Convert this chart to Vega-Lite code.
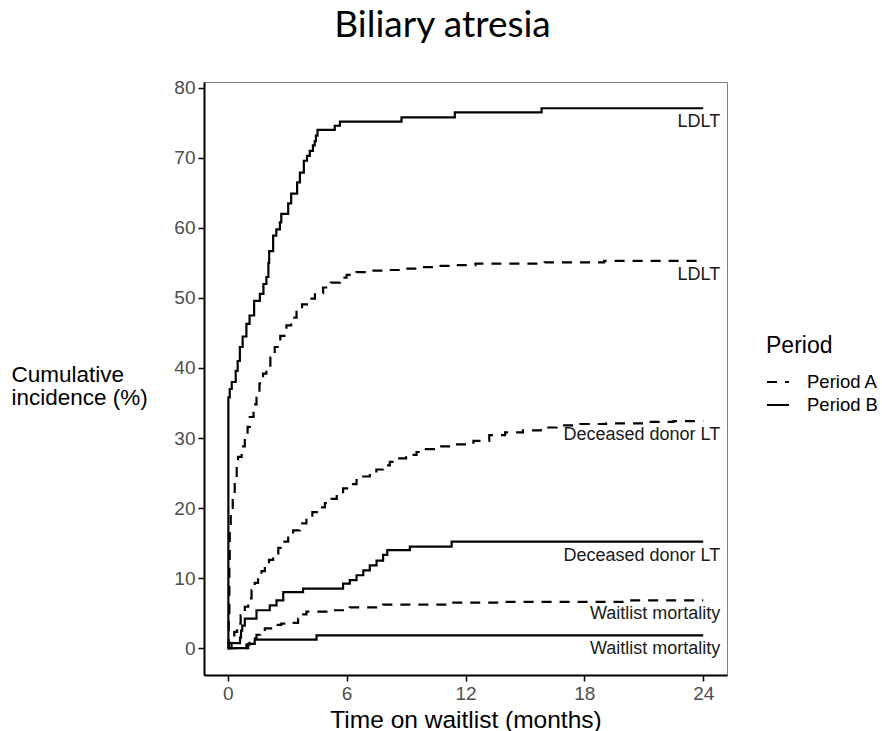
{
  "$schema": "https://vega.github.io/schema/vega-lite/v6.json",
  "width": 523,
  "height": 593,
  "autosize": {"type": "none"},
  "padding": {"left": 204, "top": 82, "right": 155, "bottom": 56},
  "background": "white",
  "title": {"text": "Biliary atresia", "font": "Lato", "fontSize": 37, "fontWeight": "normal", "color": "black", "anchor": "middle", "dx": -23, "offset": 5, "baseline": "alphabetic"},
  "config": {
    "view": {"stroke": "#7f7f7f", "strokeWidth": 1},
    "axis": {"grid": false}
  },
  "datasets": {
    "curves": [
      {"period": "Period B", "event": "LDLT", "time": 0, "cum": 0},
      {"period": "Period B", "event": "LDLT", "time": 0.03, "cum": 35.8},
      {"period": "Period B", "event": "LDLT", "time": 0.1, "cum": 37},
      {"period": "Period B", "event": "LDLT", "time": 0.2, "cum": 38},
      {"period": "Period B", "event": "LDLT", "time": 0.4, "cum": 39.6},
      {"period": "Period B", "event": "LDLT", "time": 0.5, "cum": 41},
      {"period": "Period B", "event": "LDLT", "time": 0.61, "cum": 43},
      {"period": "Period B", "event": "LDLT", "time": 0.75, "cum": 44.5},
      {"period": "Period B", "event": "LDLT", "time": 0.94, "cum": 46.3},
      {"period": "Period B", "event": "LDLT", "time": 1.1, "cum": 47.5},
      {"period": "Period B", "event": "LDLT", "time": 1.33, "cum": 49.6},
      {"period": "Period B", "event": "LDLT", "time": 1.62, "cum": 50.6},
      {"period": "Period B", "event": "LDLT", "time": 1.8, "cum": 52},
      {"period": "Period B", "event": "LDLT", "time": 1.95, "cum": 53},
      {"period": "Period B", "event": "LDLT", "time": 2.05, "cum": 55},
      {"period": "Period B", "event": "LDLT", "time": 2.09, "cum": 56.7},
      {"period": "Period B", "event": "LDLT", "time": 2.29, "cum": 58.9},
      {"period": "Period B", "event": "LDLT", "time": 2.45, "cum": 59.8},
      {"period": "Period B", "event": "LDLT", "time": 2.63, "cum": 60.8},
      {"period": "Period B", "event": "LDLT", "time": 2.7, "cum": 62},
      {"period": "Period B", "event": "LDLT", "time": 3.05, "cum": 63.5},
      {"period": "Period B", "event": "LDLT", "time": 3.2, "cum": 64.9},
      {"period": "Period B", "event": "LDLT", "time": 3.5, "cum": 66.5},
      {"period": "Period B", "event": "LDLT", "time": 3.64, "cum": 67.9},
      {"period": "Period B", "event": "LDLT", "time": 3.84, "cum": 69.6},
      {"period": "Period B", "event": "LDLT", "time": 4.0, "cum": 70.3},
      {"period": "Period B", "event": "LDLT", "time": 4.14, "cum": 71},
      {"period": "Period B", "event": "LDLT", "time": 4.3, "cum": 71.8},
      {"period": "Period B", "event": "LDLT", "time": 4.39, "cum": 72.4},
      {"period": "Period B", "event": "LDLT", "time": 4.45, "cum": 73.2},
      {"period": "Period B", "event": "LDLT", "time": 4.53, "cum": 74.0},
      {"period": "Period B", "event": "LDLT", "time": 5.4, "cum": 74.6},
      {"period": "Period B", "event": "LDLT", "time": 5.66, "cum": 75.2},
      {"period": "Period B", "event": "LDLT", "time": 8.77, "cum": 75.8},
      {"period": "Period B", "event": "LDLT", "time": 11.46, "cum": 76.5},
      {"period": "Period B", "event": "LDLT", "time": 15.84, "cum": 77.1},
      {"period": "Period B", "event": "LDLT", "time": 24, "cum": 77.1},

      {"period": "Period A", "event": "LDLT", "time": 0, "cum": 0},
      {"period": "Period A", "event": "LDLT", "time": 0.05, "cum": 5},
      {"period": "Period A", "event": "LDLT", "time": 0.08, "cum": 12},
      {"period": "Period A", "event": "LDLT", "time": 0.1, "cum": 17},
      {"period": "Period A", "event": "LDLT", "time": 0.15, "cum": 20},
      {"period": "Period A", "event": "LDLT", "time": 0.25, "cum": 22},
      {"period": "Period A", "event": "LDLT", "time": 0.35, "cum": 24},
      {"period": "Period A", "event": "LDLT", "time": 0.45, "cum": 26},
      {"period": "Period A", "event": "LDLT", "time": 0.52, "cum": 27.3},
      {"period": "Period A", "event": "LDLT", "time": 0.7, "cum": 28.8},
      {"period": "Period A", "event": "LDLT", "time": 0.86, "cum": 30.1},
      {"period": "Period A", "event": "LDLT", "time": 1.0, "cum": 31.6},
      {"period": "Period A", "event": "LDLT", "time": 1.11, "cum": 33},
      {"period": "Period A", "event": "LDLT", "time": 1.3, "cum": 34.8},
      {"period": "Period A", "event": "LDLT", "time": 1.45, "cum": 36.3},
      {"period": "Period A", "event": "LDLT", "time": 1.6, "cum": 37.8},
      {"period": "Period A", "event": "LDLT", "time": 1.78, "cum": 39.2},
      {"period": "Period A", "event": "LDLT", "time": 1.95, "cum": 39.9},
      {"period": "Period A", "event": "LDLT", "time": 2.15, "cum": 41.5},
      {"period": "Period A", "event": "LDLT", "time": 2.37, "cum": 43},
      {"period": "Period A", "event": "LDLT", "time": 2.65, "cum": 44.6},
      {"period": "Period A", "event": "LDLT", "time": 2.96, "cum": 46.1},
      {"period": "Period A", "event": "LDLT", "time": 3.2, "cum": 47.2},
      {"period": "Period A", "event": "LDLT", "time": 3.47, "cum": 48.2},
      {"period": "Period A", "event": "LDLT", "time": 3.75, "cum": 49.1},
      {"period": "Period A", "event": "LDLT", "time": 4.06, "cum": 49.9},
      {"period": "Period A", "event": "LDLT", "time": 4.4, "cum": 50.7},
      {"period": "Period A", "event": "LDLT", "time": 4.81, "cum": 51.5},
      {"period": "Period A", "event": "LDLT", "time": 5.2, "cum": 52.2},
      {"period": "Period A", "event": "LDLT", "time": 5.66, "cum": 52.9},
      {"period": "Period A", "event": "LDLT", "time": 6.0, "cum": 53.3},
      {"period": "Period A", "event": "LDLT", "time": 6.5, "cum": 53.7},
      {"period": "Period A", "event": "LDLT", "time": 7.2, "cum": 53.9},
      {"period": "Period A", "event": "LDLT", "time": 7.84, "cum": 54},
      {"period": "Period A", "event": "LDLT", "time": 8.7, "cum": 54.2},
      {"period": "Period A", "event": "LDLT", "time": 9.53, "cum": 54.4},
      {"period": "Period A", "event": "LDLT", "time": 10.3, "cum": 54.6},
      {"period": "Period A", "event": "LDLT", "time": 11.2, "cum": 54.7},
      {"period": "Period A", "event": "LDLT", "time": 12.5, "cum": 54.9},
      {"period": "Period A", "event": "LDLT", "time": 16, "cum": 55.1},
      {"period": "Period A", "event": "LDLT", "time": 19, "cum": 55.3},
      {"period": "Period A", "event": "LDLT", "time": 24, "cum": 55.3},

      {"period": "Period A", "event": "DDLT", "time": 0, "cum": 0},
      {"period": "Period A", "event": "DDLT", "time": 0.19, "cum": 1.1},
      {"period": "Period A", "event": "DDLT", "time": 0.33, "cum": 2.3},
      {"period": "Period A", "event": "DDLT", "time": 0.47, "cum": 3.5},
      {"period": "Period A", "event": "DDLT", "time": 0.65, "cum": 4.7},
      {"period": "Period A", "event": "DDLT", "time": 0.86, "cum": 5.9},
      {"period": "Period A", "event": "DDLT", "time": 1.03, "cum": 7.1},
      {"period": "Period A", "event": "DDLT", "time": 1.2, "cum": 8.3},
      {"period": "Period A", "event": "DDLT", "time": 1.36, "cum": 9.3},
      {"period": "Period A", "event": "DDLT", "time": 1.53, "cum": 10.2},
      {"period": "Period A", "event": "DDLT", "time": 1.7, "cum": 11},
      {"period": "Period A", "event": "DDLT", "time": 1.87, "cum": 11.8},
      {"period": "Period A", "event": "DDLT", "time": 2.08, "cum": 12.6},
      {"period": "Period A", "event": "DDLT", "time": 2.29, "cum": 13.3},
      {"period": "Period A", "event": "DDLT", "time": 2.55, "cum": 14.3},
      {"period": "Period A", "event": "DDLT", "time": 2.8, "cum": 15.2},
      {"period": "Period A", "event": "DDLT", "time": 3.05, "cum": 16},
      {"period": "Period A", "event": "DDLT", "time": 3.3, "cum": 16.8},
      {"period": "Period A", "event": "DDLT", "time": 3.63, "cum": 17.8},
      {"period": "Period A", "event": "DDLT", "time": 3.97, "cum": 18.7},
      {"period": "Period A", "event": "DDLT", "time": 4.27, "cum": 19.4},
      {"period": "Period A", "event": "DDLT", "time": 4.56, "cum": 20.1},
      {"period": "Period A", "event": "DDLT", "time": 4.9, "cum": 20.7},
      {"period": "Period A", "event": "DDLT", "time": 5.24, "cum": 21.3},
      {"period": "Period A", "event": "DDLT", "time": 5.5, "cum": 22},
      {"period": "Period A", "event": "DDLT", "time": 5.82, "cum": 22.8},
      {"period": "Period A", "event": "DDLT", "time": 6.16, "cum": 23.4},
      {"period": "Period A", "event": "DDLT", "time": 6.5, "cum": 24},
      {"period": "Period A", "event": "DDLT", "time": 6.84, "cum": 24.5},
      {"period": "Period A", "event": "DDLT", "time": 7.17, "cum": 24.9},
      {"period": "Period A", "event": "DDLT", "time": 7.5, "cum": 25.5},
      {"period": "Period A", "event": "DDLT", "time": 7.84, "cum": 26.1},
      {"period": "Period A", "event": "DDLT", "time": 8.18, "cum": 26.6},
      {"period": "Period A", "event": "DDLT", "time": 8.52, "cum": 27.1},
      {"period": "Period A", "event": "DDLT", "time": 9.0, "cum": 27.6},
      {"period": "Period A", "event": "DDLT", "time": 9.53, "cum": 28},
      {"period": "Period A", "event": "DDLT", "time": 10.0, "cum": 28.4},
      {"period": "Period A", "event": "DDLT", "time": 10.54, "cum": 28.8},
      {"period": "Period A", "event": "DDLT", "time": 11.5, "cum": 29.1},
      {"period": "Period A", "event": "DDLT", "time": 12.4, "cum": 29.6},
      {"period": "Period A", "event": "DDLT", "time": 13.2, "cum": 30.4},
      {"period": "Period A", "event": "DDLT", "time": 14.0, "cum": 30.8},
      {"period": "Period A", "event": "DDLT", "time": 14.9, "cum": 31.1},
      {"period": "Period A", "event": "DDLT", "time": 15.8, "cum": 31.5},
      {"period": "Period A", "event": "DDLT", "time": 16.6, "cum": 31.8},
      {"period": "Period A", "event": "DDLT", "time": 17.8, "cum": 32},
      {"period": "Period A", "event": "DDLT", "time": 19.1, "cum": 32.1},
      {"period": "Period A", "event": "DDLT", "time": 21, "cum": 32.3},
      {"period": "Period A", "event": "DDLT", "time": 22.5, "cum": 32.4},
      {"period": "Period A", "event": "DDLT", "time": 24, "cum": 32.4},

      {"period": "Period B", "event": "DDLT", "time": 0, "cum": 0},
      {"period": "Period B", "event": "DDLT", "time": 0.05, "cum": 0.7},
      {"period": "Period B", "event": "DDLT", "time": 0.62, "cum": 1.5},
      {"period": "Period B", "event": "DDLT", "time": 0.67, "cum": 2.5},
      {"period": "Period B", "event": "DDLT", "time": 0.73, "cum": 3.2},
      {"period": "Period B", "event": "DDLT", "time": 0.86, "cum": 4.2},
      {"period": "Period B", "event": "DDLT", "time": 1.45, "cum": 5.4},
      {"period": "Period B", "event": "DDLT", "time": 2.12, "cum": 6.1},
      {"period": "Period B", "event": "DDLT", "time": 2.46, "cum": 6.8},
      {"period": "Period B", "event": "DDLT", "time": 2.8, "cum": 8.0},
      {"period": "Period B", "event": "DDLT", "time": 3.8, "cum": 8.5},
      {"period": "Period B", "event": "DDLT", "time": 5.82, "cum": 9.2},
      {"period": "Period B", "event": "DDLT", "time": 6.16, "cum": 9.7},
      {"period": "Period B", "event": "DDLT", "time": 6.5, "cum": 10.4},
      {"period": "Period B", "event": "DDLT", "time": 6.84, "cum": 11.1},
      {"period": "Period B", "event": "DDLT", "time": 7.17, "cum": 11.8},
      {"period": "Period B", "event": "DDLT", "time": 7.51, "cum": 12.5},
      {"period": "Period B", "event": "DDLT", "time": 7.84, "cum": 13.3},
      {"period": "Period B", "event": "DDLT", "time": 8.05, "cum": 14.0},
      {"period": "Period B", "event": "DDLT", "time": 9.19, "cum": 14.5},
      {"period": "Period B", "event": "DDLT", "time": 11.3, "cum": 15.2},
      {"period": "Period B", "event": "DDLT", "time": 24, "cum": 15.2},

      {"period": "Period A", "event": "Mortality", "time": 0, "cum": 0},
      {"period": "Period A", "event": "Mortality", "time": 0.94, "cum": 0.5},
      {"period": "Period A", "event": "Mortality", "time": 1.1, "cum": 0.9},
      {"period": "Period A", "event": "Mortality", "time": 1.25, "cum": 1.4},
      {"period": "Period A", "event": "Mortality", "time": 1.45, "cum": 1.9},
      {"period": "Period A", "event": "Mortality", "time": 1.65, "cum": 2.4},
      {"period": "Period A", "event": "Mortality", "time": 1.87, "cum": 2.8},
      {"period": "Period A", "event": "Mortality", "time": 2.29, "cum": 3.3},
      {"period": "Period A", "event": "Mortality", "time": 2.7, "cum": 3.5},
      {"period": "Period A", "event": "Mortality", "time": 3.13, "cum": 3.6},
      {"period": "Period A", "event": "Mortality", "time": 3.55, "cum": 4.2},
      {"period": "Period A", "event": "Mortality", "time": 3.75, "cum": 4.8},
      {"period": "Period A", "event": "Mortality", "time": 3.97, "cum": 5.2},
      {"period": "Period A", "event": "Mortality", "time": 4.98, "cum": 5.4},
      {"period": "Period A", "event": "Mortality", "time": 6.16, "cum": 5.8},
      {"period": "Period A", "event": "Mortality", "time": 7.84, "cum": 6.2},
      {"period": "Period A", "event": "Mortality", "time": 11.2, "cum": 6.5},
      {"period": "Period A", "event": "Mortality", "time": 14, "cum": 6.6},
      {"period": "Period A", "event": "Mortality", "time": 20, "cum": 6.8},
      {"period": "Period A", "event": "Mortality", "time": 24, "cum": 6.8},

      {"period": "Period B", "event": "Mortality", "time": 0, "cum": 0},
      {"period": "Period B", "event": "Mortality", "time": 1.03, "cum": 0.6},
      {"period": "Period B", "event": "Mortality", "time": 1.36, "cum": 1.2},
      {"period": "Period B", "event": "Mortality", "time": 4.48, "cum": 1.8},
      {"period": "Period B", "event": "Mortality", "time": 24, "cum": 1.8}
    ],
    "labels": [
      {"label": "LDLT", "time": 24, "cum": 77.1},
      {"label": "LDLT", "time": 24, "cum": 55.3},
      {"label": "Deceased donor LT", "time": 24, "cum": 32.4},
      {"label": "Deceased donor LT", "time": 24, "cum": 15.2},
      {"label": "Waitlist mortality", "time": 24, "cum": 6.8},
      {"label": "Waitlist mortality", "time": 24, "cum": 1.8}
    ]
  },
  "layer": [
    {
      "data": {"name": "curves"},
      "mark": {"type": "line", "interpolate": "step-after", "strokeWidth": 2.2, "color": "black"},
      "encoding": {
        "x": {
          "field": "time", "type": "quantitative",
          "scale": {"domain": [-1.2, 25.2], "nice": false, "zero": false},
          "axis": {
            "values": [0, 6, 12, 18, 24],
            "domainColor": "black", "domainWidth": 2,
            "tickColor": "black", "tickWidth": 1.5, "tickSize": 6,
            "labelFont": "Liberation Sans", "labelFontSize": 19, "labelColor": "#4d4d4d", "labelPadding": 3,
            "title": "Time on waitlist (months)",
            "titleFont": "Liberation Sans", "titleFontSize": 24.5, "titleFontWeight": "normal", "titleColor": "black",
            "titleBaseline": "alphabetic", "titleY": 52
          }
        },
        "y": {
          "field": "cum", "type": "quantitative",
          "scale": {"domain": [-3.85, 80.85], "nice": false, "zero": false},
          "axis": {
            "values": [0, 10, 20, 30, 40, 50, 60, 70, 80],
            "domainColor": "black", "domainWidth": 2,
            "tickColor": "black", "tickWidth": 1.5, "tickSize": 6,
            "labelFont": "Liberation Sans", "labelFontSize": 19, "labelColor": "#4d4d4d", "labelPadding": 3,
            "title": ["Cumulative", "incidence (%)"],
            "titleFont": "Liberation Sans", "titleFontSize": 22.5, "titleFontWeight": "normal", "titleColor": "black",
            "titleAngle": 0, "titleAlign": "left", "titleBaseline": "alphabetic",
            "titleX": -193, "titleY": 299, "titleLineHeight": 23
          }
        },
        "strokeDash": {
          "field": "period", "type": "nominal",
          "scale": {"domain": ["Period A", "Period B"], "range": [[10, 8], [1, 0]]},
          "legend": {
            "orient": "none", "legendX": 562, "legendY": 253,
            "title": "Period",
            "titleFont": "Liberation Sans", "titleFontSize": 23, "titleFontWeight": "normal", "titleColor": "black", "titlePadding": 12,
            "labelFont": "Liberation Sans", "labelFontSize": 18.5, "labelColor": "black", "labelOffset": 17,
            "symbolType": "stroke", "symbolSize": 484, "symbolStrokeWidth": 2, "symbolStrokeColor": "black",
            "rowPadding": 1
          }
        },
        "detail": {"field": "event", "type": "nominal"}
      }
    },
    {
      "data": {"name": "labels"},
      "mark": {"type": "text", "align": "right", "baseline": "middle", "dx": 17, "dy": 14, "font": "Liberation Sans", "fontSize": 18, "color": "#1a1a1a"},
      "encoding": {
        "x": {"field": "time", "type": "quantitative"},
        "y": {"field": "cum", "type": "quantitative"},
        "text": {"field": "label", "type": "nominal"}
      }
    }
  ]
}
